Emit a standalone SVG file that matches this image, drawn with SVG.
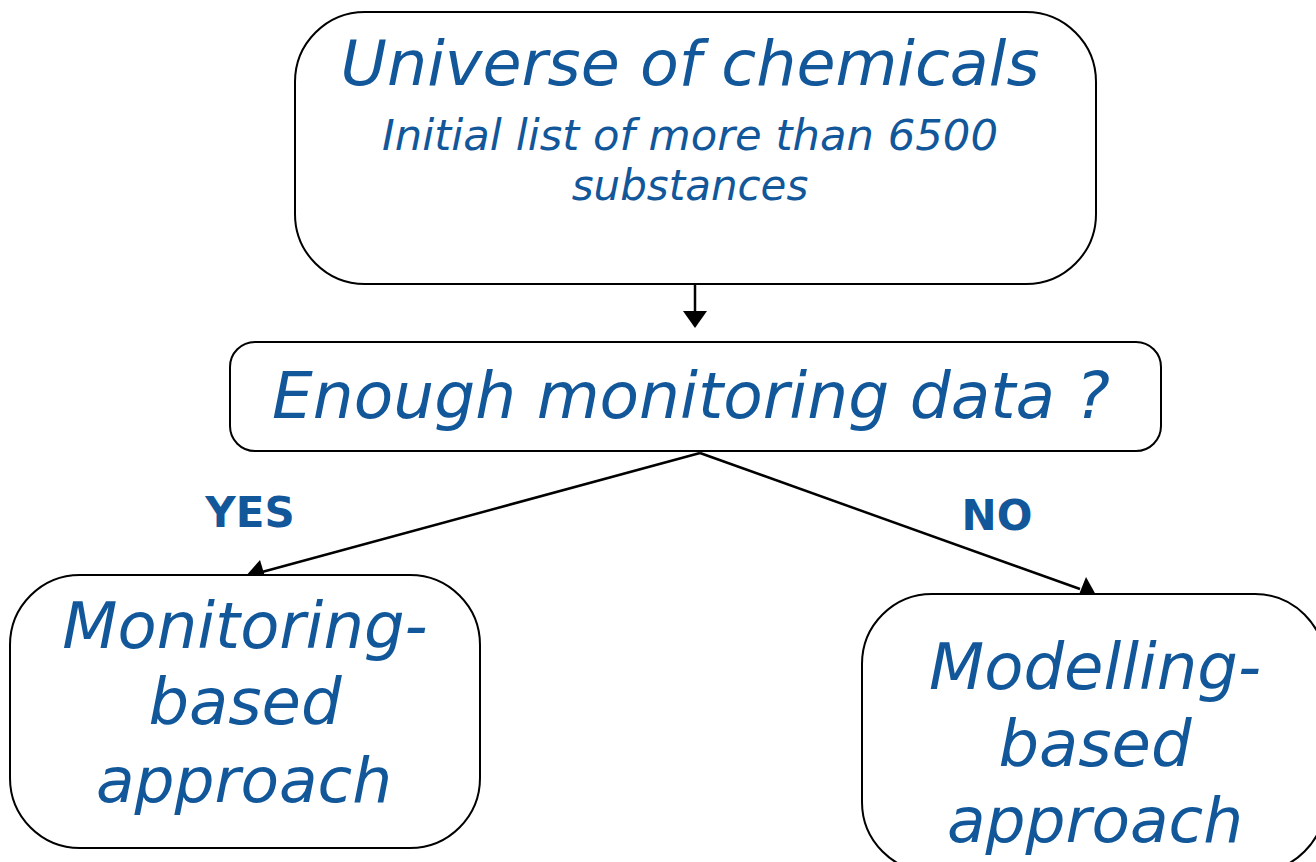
<svg xmlns="http://www.w3.org/2000/svg" width="1316" height="862" viewBox="0 0 1316 862">
<defs>
<style>
.box{fill:#fff;stroke:#000;stroke-width:2}
.t{font-family:"DejaVu Sans",Verdana,sans-serif;font-style:italic;fill:#11579a;text-anchor:middle}
.lbl{font-family:"DejaVu Sans",Verdana,sans-serif;font-weight:bold;fill:#11579a;text-anchor:middle}
.c{stroke:#000;stroke-width:2.5;fill:none}
</style>
</defs>
<rect width="1316" height="862" fill="#fff"/>
<g id="connectors">
<line class="c" x1="695" y1="285" x2="695" y2="312"/>
<path d="M683,311 L707,311 L695,328 z" fill="#000"/>
<line class="c" x1="700" y1="453" x2="262" y2="572"/>
<path d="M245,577 L260,560 L266,580 z" fill="#000"/>
<line class="c" x1="700" y1="453" x2="1080" y2="589"/>
<path d="M1096,595 L1078,597 L1086,577 z" fill="#000"/>
</g>
<g id="label-yes"><text class="lbl" x="250" y="527" font-size="42">YES</text></g>
<g id="label-no"><text class="lbl" x="997" y="530" font-size="42">NO</text></g>
<g id="node-universe">
<rect class="box" x="295" y="12" width="801" height="272" rx="70" ry="70"/>
<text class="t" x="690" y="85" font-size="63" textLength="699" lengthAdjust="spacingAndGlyphs">Universe of chemicals</text>
<text class="t" x="690" y="150" font-size="42" textLength="616" lengthAdjust="spacingAndGlyphs">Initial list of more than 6500</text>
<text class="t" x="690" y="200" font-size="42">substances</text>
</g>
<g id="node-enough">
<rect class="box" x="230" y="342" width="931" height="109" rx="25" ry="25"/>
<text class="t" x="691" y="418" font-size="64" textLength="838" lengthAdjust="spacingAndGlyphs">Enough monitoring data ?</text>
</g>
<g id="node-monitoring">
<rect class="box" x="10" y="575" width="470" height="273" rx="70" ry="70"/>
<text class="t" x="245" y="648" font-size="64">Monitoring-</text>
<text class="t" x="245" y="724" font-size="64">based</text>
<text class="t" x="244" y="802" font-size="63">approach</text>
</g>
<g id="node-modelling">
<rect class="box" x="862" y="594" width="463" height="278" rx="70" ry="70"/>
<text class="t" x="1095" y="689" font-size="64">Modelling-</text>
<text class="t" x="1095" y="766" font-size="64">based</text>
<text class="t" x="1095" y="842" font-size="63">approach</text>
</g>
</svg>
